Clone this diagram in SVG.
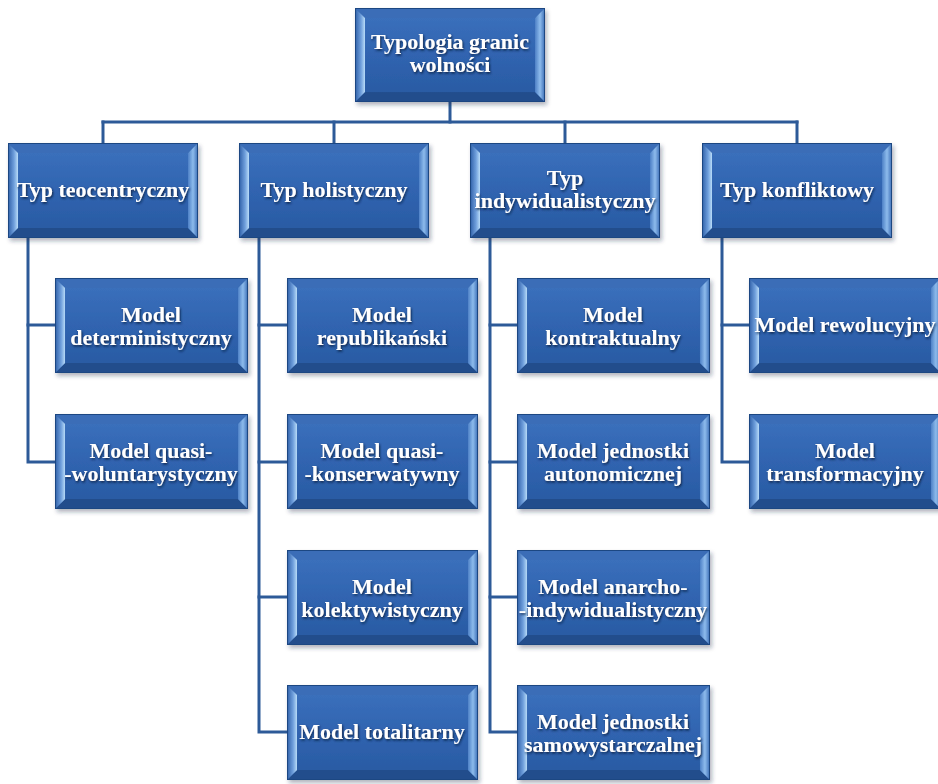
<svg xmlns="http://www.w3.org/2000/svg" xmlns:xlink="http://www.w3.org/1999/xlink" width="938" height="784" viewBox="0 0 938 784">
<defs>
<style>
.lbl{font-family:"Liberation Serif","Times New Roman",serif;font-weight:bold;font-size:22px;fill:#ffffff;text-anchor:middle;filter:url(#ts);}
.con{stroke:#2d5a98;stroke-width:3;fill:none;stroke-linecap:square;}
</style>
<filter id="ts" x="-10%" y="-30%" width="120%" height="160%">
<feDropShadow dx="1" dy="1.5" stdDeviation="0.8" flood-color="#0b1c3e" flood-opacity="0.9"/>
</filter>
<filter id="bs" x="-5%" y="-5%" width="115%" height="120%">
<feDropShadow dx="2" dy="3" stdDeviation="2" flood-color="#1a2a40" flood-opacity="0.35"/>
</filter>
<linearGradient id="face" x1="0" y1="0" x2="0" y2="1">
<stop offset="0" stop-color="#3a6fbb"/>
<stop offset="0.5" stop-color="#3064b0"/>
<stop offset="1" stop-color="#2a5ba4"/>
</linearGradient>
<linearGradient id="lb" x1="0" y1="0" x2="1" y2="0">
<stop offset="0" stop-color="#2d5ea6"/>
<stop offset="0.6" stop-color="#6f9fdc"/>
<stop offset="1" stop-color="#b9dcf8"/>
</linearGradient>
<linearGradient id="rb" x1="0" y1="0" x2="1" y2="0">
<stop offset="0" stop-color="#4d80c6"/>
<stop offset="0.5" stop-color="#8dbbec"/>
<stop offset="1" stop-color="#3a6cb5"/>
</linearGradient>
<symbol id="box" viewBox="0 0 190 95" preserveAspectRatio="none">
<rect x="0" y="0" width="190" height="95" fill="#2b5ca3"/>
<polygon points="0,0 190,0 180,10 10,10" fill="#3a6db7"/>
<polygon points="0,95 190,95 180,85 10,85" fill="#224d8c"/>
<polygon points="0,0 10,10 10,85 0,95" fill="url(#lb)"/>
<polygon points="190,0 180,10 180,85 190,95" fill="url(#rb)"/>
<rect x="10" y="10" width="170" height="75" fill="url(#face)"/>
<rect x="0.5" y="0.5" width="189" height="94" fill="none" stroke="#1f4682" stroke-width="1"/>
</symbol>
</defs>
<rect width="938" height="784" fill="#ffffff"/>
<g id="connectors">
<line class="con" x1="450" y1="102" x2="450" y2="122"/>
<line class="con" x1="103" y1="122" x2="797" y2="122"/>
<line class="con" x1="103" y1="122" x2="103" y2="143"/>
<line class="con" x1="334" y1="122" x2="334" y2="143"/>
<line class="con" x1="565" y1="122" x2="565" y2="143"/>
<line class="con" x1="797" y1="122" x2="797" y2="143"/>
<polyline class="con" points="28,238 28,462 55,462"/>
<line class="con" x1="28" y1="325" x2="55" y2="325"/>
<polyline class="con" points="259,238 259,732 287,732"/>
<line class="con" x1="259" y1="325" x2="287" y2="325"/>
<line class="con" x1="259" y1="462" x2="287" y2="462"/>
<line class="con" x1="259" y1="597" x2="287" y2="597"/>
<polyline class="con" points="490,238 490,732 517,732"/>
<line class="con" x1="490" y1="325" x2="517" y2="325"/>
<line class="con" x1="490" y1="462" x2="517" y2="462"/>
<line class="con" x1="490" y1="597" x2="517" y2="597"/>
<polyline class="con" points="722,238 722,462 749,462"/>
<line class="con" x1="722" y1="325" x2="749" y2="325"/>
</g>
<g id="root">
<use xlink:href="#box" x="355" y="8" width="190" height="94" filter="url(#bs)"/>
<text class="lbl" x="450" y="49">Typologia granic</text>
<text class="lbl" x="450" y="72">wolności</text>
</g>
<g id="typ-teocentryczny">
<use xlink:href="#box" x="8" y="143" width="190" height="95" filter="url(#bs)"/>
<text class="lbl" x="103" y="197">Typ teocentryczny</text>
</g>
<g id="typ-holistyczny">
<use xlink:href="#box" x="239" y="143" width="190" height="95" filter="url(#bs)"/>
<text class="lbl" x="334" y="197">Typ holistyczny</text>
</g>
<g id="typ-indywidualistyczny">
<use xlink:href="#box" x="470" y="143" width="190" height="95" filter="url(#bs)"/>
<text class="lbl" x="565" y="185">Typ</text>
<text class="lbl" x="565" y="208">indywidualistyczny</text>
</g>
<g id="typ-konfliktowy">
<use xlink:href="#box" x="702" y="143" width="190" height="95" filter="url(#bs)"/>
<text class="lbl" x="797" y="197">Typ konfliktowy</text>
</g>
<g id="model-deterministyczny">
<use xlink:href="#box" x="55" y="278" width="193" height="95" filter="url(#bs)"/>
<text class="lbl" x="151" y="322">Model</text>
<text class="lbl" x="151" y="345">deterministyczny</text>
</g>
<g id="model-quasi-woluntarystyczny">
<use xlink:href="#box" x="55" y="414" width="193" height="95" filter="url(#bs)"/>
<text class="lbl" x="151" y="458">Model quasi-</text>
<text class="lbl" x="151" y="481">-woluntarystyczny</text>
</g>
<g id="model-republikanski">
<use xlink:href="#box" x="287" y="278" width="191" height="95" filter="url(#bs)"/>
<text class="lbl" x="382" y="322">Model</text>
<text class="lbl" x="382" y="345">republikański</text>
</g>
<g id="model-quasi-konserwatywny">
<use xlink:href="#box" x="287" y="414" width="191" height="95" filter="url(#bs)"/>
<text class="lbl" x="382" y="458">Model quasi-</text>
<text class="lbl" x="382" y="481">-konserwatywny</text>
</g>
<g id="model-kolektywistyczny">
<use xlink:href="#box" x="287" y="550" width="191" height="95" filter="url(#bs)"/>
<text class="lbl" x="382" y="594">Model</text>
<text class="lbl" x="382" y="617">kolektywistyczny</text>
</g>
<g id="model-totalitarny">
<use xlink:href="#box" x="287" y="685" width="191" height="95" filter="url(#bs)"/>
<text class="lbl" x="382" y="739">Model totalitarny</text>
</g>
<g id="model-kontraktualny">
<use xlink:href="#box" x="517" y="278" width="193" height="95" filter="url(#bs)"/>
<text class="lbl" x="613" y="322">Model</text>
<text class="lbl" x="613" y="345">kontraktualny</text>
</g>
<g id="model-jednostki-autonomicznej">
<use xlink:href="#box" x="517" y="414" width="193" height="95" filter="url(#bs)"/>
<text class="lbl" x="613" y="458">Model jednostki</text>
<text class="lbl" x="613" y="481">autonomicznej</text>
</g>
<g id="model-anarcho-indywidualistyczny">
<use xlink:href="#box" x="517" y="550" width="193" height="95" filter="url(#bs)"/>
<text class="lbl" x="613" y="594">Model anarcho-</text>
<text class="lbl" x="613" y="617">-indywidualistyczny</text>
</g>
<g id="model-jednostki-samowystarczalnej">
<use xlink:href="#box" x="517" y="685" width="193" height="95" filter="url(#bs)"/>
<text class="lbl" x="613" y="729">Model jednostki</text>
<text class="lbl" x="613" y="752">samowystarczalnej</text>
</g>
<g id="model-rewolucyjny">
<use xlink:href="#box" x="749" y="278" width="192" height="95" filter="url(#bs)"/>
<text class="lbl" x="845" y="332">Model rewolucyjny</text>
</g>
<g id="model-transformacyjny">
<use xlink:href="#box" x="749" y="414" width="192" height="95" filter="url(#bs)"/>
<text class="lbl" x="845" y="458">Model</text>
<text class="lbl" x="845" y="481">transformacyjny</text>
</g>
</svg>
